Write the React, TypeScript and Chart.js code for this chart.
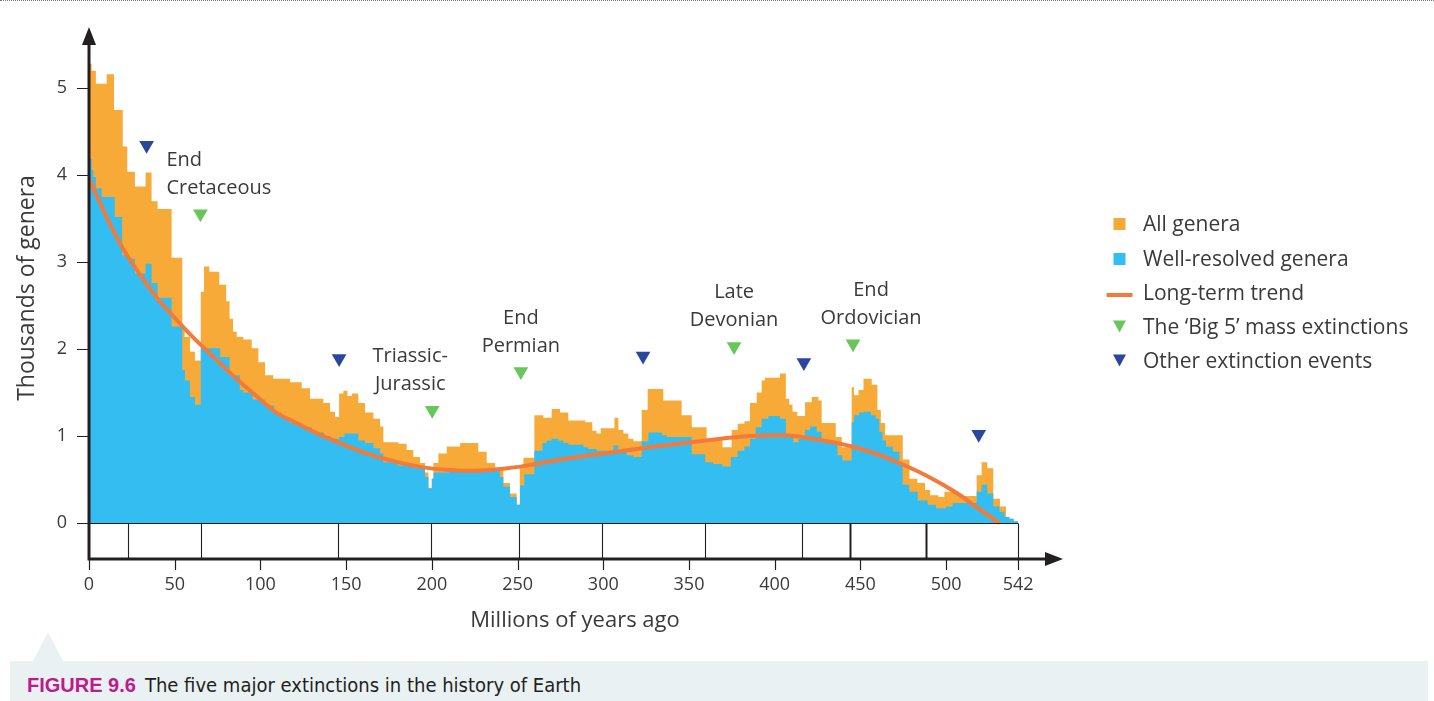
import { useEffect, useRef } from "react";
import { Chart, registerables } from "chart.js";

Chart.register(...registerables);

// Genus counts (thousands) as steps: each value holds from its age until the next age.
const allGeneraAges = [
  0, 1.5, 4, 10.3, 14.6, 19.7, 22.3, 26.8, 33, 36.5, 40, 48.2, 54.4, 55.8, 58.9, 61.8,
  65.2, 67.1, 70.2, 76, 80, 82, 84, 86.2, 90, 94.9, 98.8, 102.7, 107.5, 117.3, 124.1, 128.9,
  136.7, 140.6, 143.5, 145.9, 148.4, 150.7, 153.3, 157.1, 161, 165.9, 169.8, 171.7, 180.4,
  185.3, 189.2, 193.1, 196, 198, 199.9, 200.9, 203.8, 208.7, 216.5, 227.1, 232, 236.9, 241.7,
  245.6, 249.5, 251.3, 253.4, 259.8, 265, 269.9, 274.8, 279.6, 289.4, 293.6, 296.1, 298.5,
  306.5, 308.8, 311.7, 314.6, 317.6, 322.4, 325.9, 335, 345.7, 351.6, 360.3, 369.5, 374.9,
  378.4, 382.3, 385.6, 389.5, 392.4, 394.3, 403.1, 406.5, 408.5, 410.4, 413.2, 417.7, 421.6,
  425.5, 427.4, 435.6, 439.1, 444.9, 446.3, 448.9, 451.8, 456.6, 459.9, 461.9, 464.4, 474.7,
  478.6, 483.2, 487.7, 490.6, 495.5, 499, 505.2, 510, 517.8, 520.7, 524, 527.5, 531.4, 534.9,
  538.8, 542,
];
const allGeneraValues = [
  5.28, 5.2, 5.05, 5.16, 4.75, 4.33, 4.04, 3.87, 4.03, 3.7, 3.61, 3.05, 2.26, 2.14, 1.97, 1.87,
  2.66, 2.95, 2.89, 2.74, 2.55, 2.35, 2.2, 2.14, 2.11, 2.01, 1.85, 1.7, 1.66, 1.62, 1.55, 1.43,
  1.38, 1.28, 1.22, 1.49, 1.52, 1.46, 1.49, 1.38, 1.27, 1.2, 1.11, 0.93, 0.91,
  0.84, 0.76, 0.69, 0.58, 0.4, 0.51, 0.69, 0.8, 0.88, 0.92, 0.82, 0.69, 0.61, 0.46,
  0.34, 0.21, 0.64, 0.75, 1.24, 1.21, 1.31, 1.27, 1.18, 1.16, 1.06, 1.03, 1.09,
  1.21, 1.07, 1.03, 0.97, 0.94, 1.3, 1.54, 1.41, 1.24, 1.1, 0.97, 0.87, 1.07,
  1.14, 1.17, 1.38, 1.5, 1.64, 1.67, 1.72, 1.43, 1.36, 1.28, 1.23, 1.39, 1.45,
  1.41, 1.15, 0.99, 0.87, 1.56, 1.47, 1.53, 1.66, 1.59, 1.3, 1.15, 1.01, 0.73,
  0.51, 0.46, 0.38, 0.32, 0.3, 0.36, 0.33, 0.31, 0.55, 0.7, 0.63, 0.28, 0.19, 0.05,
  0.02, 0,
];

const wellResolvedAges = [
  0, 1.5, 2.5, 4, 7.4, 15, 19.3, 22.3, 26.8, 33, 36.5, 40, 48.2, 54.4, 56, 58.9, 61.8,
  65.2, 76.5, 82, 88, 90, 95.5, 102.7, 108, 112, 117.3, 124.1, 130, 137, 141, 146, 149,
  157.1, 161, 165.9, 169.8, 171.7, 180, 189, 196, 198, 200, 201, 210, 228, 239.7, 241.7,
  245.6, 249.5, 251.4, 253.9, 259.8, 264.5, 267, 269.9, 273.8, 276.7, 279.6, 288.4, 291.3,
  296.1, 305.9, 308.8, 313.7, 317.6, 322.4, 326.3, 334.1, 337, 351.6, 359.4, 364.2, 369.5,
  374.4, 378.4, 382.3, 385.6, 388.9, 392.4, 396.3, 403.1, 406.5, 410.9, 413.8, 417.7, 420.6,
  424.5, 427.4, 436.6, 439.5, 444.9, 446.3, 449.2, 452.2, 456.1, 459, 461, 462.9, 464.9, 469,
  472.7, 474.6, 478.5, 483.4, 489.2, 494.1, 499.9, 503.8, 517.8, 520.7, 524, 527.5, 531.1,
  534, 537, 539.5, 542,
];
const wellResolvedValues = [
  4.19, 4.06, 3.98, 3.85, 3.75, 3.52, 3.08, 3.04, 2.87, 2.98, 2.76, 2.59, 2.26, 1.76, 1.64, 1.45, 1.36,
  2.01, 1.91, 1.7, 1.53, 1.5, 1.42, 1.35, 1.27, 1.22, 1.15, 1.1, 1.04, 1.0, 0.97, 0.99, 1.03,
  0.95, 0.92, 0.86, 0.8, 0.7, 0.66, 0.63, 0.53, 0.4, 0.51, 0.58, 0.6, 0.61, 0.53, 0.42,
  0.3, 0.21, 0.43, 0.56, 0.83, 0.92, 0.95, 0.97, 0.95, 0.92, 0.9, 0.87, 0.85,
  0.83, 0.89, 0.83, 0.78, 0.76, 0.94, 1.04, 1.01, 0.99, 0.79, 0.7, 0.68, 0.65,
  0.76, 0.83, 0.88, 0.97, 1.1, 1.2, 1.23, 1.2, 1.01, 0.93, 0.97, 1.07, 1.11,
  1.05, 0.93, 0.78, 0.72, 1.16, 1.24, 1.27, 1.28, 1.24, 1.2, 1.05, 0.95, 0.88, 0.82,
  0.67, 0.44, 0.36, 0.26, 0.21, 0.17, 0.19, 0.23, 0.36, 0.44, 0.34, 0.19, 0.13,
  0.07, 0.05, 0.02, 0,
];

// Smoothed long-term trend (thousands of genera)
const trendAges = [
  0, 10, 20, 30, 40, 50, 60, 70, 80, 90, 100, 110, 120, 130, 140, 150, 165, 180, 195, 210, 225,
  240, 255, 275, 300, 330, 360, 385, 405, 425, 445, 460, 475, 490, 505, 518, 531,
];
const trendValues = [
  3.96, 3.53, 3.15, 2.85, 2.58, 2.36, 2.15, 1.96, 1.77, 1.59, 1.42, 1.26, 1.16, 1.06, 0.97, 0.89,
  0.78, 0.7, 0.64, 0.61, 0.6, 0.62, 0.66, 0.73, 0.8, 0.88, 0.95, 1.0, 1.01, 0.96, 0.88, 0.79,
  0.67, 0.53, 0.36, 0.18, 0,
];

// Extinction markers
const bigFiveAges = [65, 200.2, 251.9, 376.3, 445.7];
const bigFiveLevels = [3.556, 1.296, 1.741, 2.03, 2.06];
const bigFiveNames = [
  ["End", "Cretaceous"],
  ["Triassic-", "Jurassic"],
  ["End", "Permian"],
  ["Late", "Devonian"],
  ["End", "Ordovician"],
];
const otherAges = [33.6, 145.9, 323.2, 417, 519];
const otherLevels = [4.345, 1.893, 1.92, 1.845, 1.021];

// Geological period boundaries (Ma) shown in the strip under the baseline
const periodBoundaries = [23.03, 65.5, 145.5, 199.6, 251, 299, 359.2, 416, 443.7, 488.3, 542];

const xTicks = [0, 50, 100, 150, 200, 250, 300, 350, 400, 450, 500, 542];
const yTicks = [0, 1, 2, 3, 4, 5];

const legendLabels = [
  "All genera",
  "Well-resolved genera",
  "Long-term trend",
  "The \u2018Big 5\u2019 mass extinctions",
  "Other extinction events",
];

const FONT = '"Open Sans", "Noto Sans", sans-serif';
const ORANGE = "#F7AA37";
const BLUE = "#34BDF0";
const TREND = "#F37A3B";
const GREEN = "#69C65C";
const NAVY = "#2B469E";
const AXIS = "#231F20";
const TEXT = "#3A3A3A";

const toPoints = (xs: number[], ys: number[]) => xs.map((x, i) => ({ x, y: ys[i] }));

// Label placement relative to each Big-5 marker
const labelLayout = [
  { dx: -34, align: "left" },
  { dx: -22, align: "center" },
  { dx: 0, align: "center" },
  { dx: 0, align: "center" },
  { dx: 18, align: "center" },
];

const figureDecor = {
  id: "figureDecor",
  afterDraw(chart: any) {
    const { ctx, chartArea } = chart;
    const xs = chart.scales.x;
    const ys = chart.scales.y;
    const px = (v: number) => xs.getPixelForValue(v);
    const py = (v: number) => ys.getPixelForValue(v);
    const left = chartArea.left;
    const base = chartArea.bottom + 1;
    const zeroY = Math.round(py(0)) + 0.5;

    ctx.save();
    ctx.strokeStyle = AXIS;
    ctx.fillStyle = AXIS;

    // period strip under the baseline
    ctx.lineWidth = 1.2;
    ctx.beginPath();
    ctx.moveTo(left, zeroY);
    ctx.lineTo(px(542), zeroY);
    ctx.stroke();
    const heavy = new Set([443.7, 488.3]);
    for (const b of periodBoundaries) {
      ctx.lineWidth = heavy.has(b) ? 2 : 1.1;
      const bx = Math.round(px(b)) + 0.5;
      ctx.beginPath();
      ctx.moveTo(bx, zeroY);
      ctx.lineTo(bx, base);
      ctx.stroke();
    }

    // tick marks
    ctx.lineWidth = 1.2;
    ctx.beginPath();
    for (const v of yTicks) {
      const ty = Math.round(py(v)) + 0.5;
      ctx.moveTo(left - 12, ty);
      ctx.lineTo(left, ty);
    }
    for (const v of xTicks) {
      const tx = Math.round(px(v)) + 0.5;
      ctx.moveTo(tx, base);
      ctx.lineTo(tx, base + 11);
    }
    ctx.stroke();

    // axes with arrowheads
    ctx.lineWidth = 3;
    ctx.beginPath();
    ctx.moveTo(left, base + 1.5);
    ctx.lineTo(left, 42);
    ctx.moveTo(left - 1.5, base);
    ctx.lineTo(1047, base);
    ctx.stroke();
    ctx.beginPath();
    ctx.moveTo(left, 27);
    ctx.lineTo(left - 7, 45);
    ctx.lineTo(left + 7, 45);
    ctx.closePath();
    ctx.fill();
    ctx.beginPath();
    ctx.moveTo(1063, base);
    ctx.lineTo(1045, base - 7);
    ctx.lineTo(1045, base + 7);
    ctx.closePath();
    ctx.fill();

    // axis titles
    ctx.fillStyle = TEXT;
    ctx.font = `22px ${FONT}`;
    ctx.textAlign = "center";
    ctx.textBaseline = "alphabetic";
    ctx.fillText("Millions of years ago", 575, 627);
    ctx.save();
    ctx.translate(34, 288);
    ctx.rotate(-Math.PI / 2);
    ctx.font = `23px ${FONT}`;
    ctx.fillText("Thousands of genera", 0, 0);
    ctx.restore();

    // Big-5 names
    ctx.font = `20px ${FONT}`;
    bigFiveNames.forEach((lines, i) => {
      const mx = px(bigFiveAges[i]);
      const my = py(bigFiveLevels[i]);
      const lay = labelLayout[i];
      ctx.textAlign = lay.align;
      lines.forEach((line, k) => {
        ctx.fillText(line, mx + lay.dx, my - 48 + k * 28);
      });
    });

    // legend
    const baselines = [231, 266, 300, 334, 368];
    const mx = 1119.5;
    ctx.textAlign = "left";
    ctx.font = `21px ${FONT}`;
    legendLabels.forEach((label, i) => {
      const by = baselines[i];
      if (i === 0 || i === 1) {
        ctx.fillStyle = i === 0 ? ORANGE : BLUE;
        ctx.fillRect(mx - 6, by - 13, 12, 12);
      } else if (i === 2) {
        ctx.strokeStyle = TREND;
        ctx.lineWidth = 4;
        ctx.beginPath();
        ctx.moveTo(mx - 13, by - 5);
        ctx.lineTo(mx + 13, by - 5);
        ctx.stroke();
      } else {
        ctx.fillStyle = i === 3 ? GREEN : NAVY;
        const top = by - 13.5;
        ctx.beginPath();
        ctx.moveTo(mx - 6.5, top);
        ctx.lineTo(mx + 6.5, top);
        ctx.lineTo(mx, top + 12);
        ctx.closePath();
        ctx.fill();
      }
      ctx.fillStyle = TEXT;
      ctx.fillText(label, 1143, by);
    });

    ctx.restore();
  },
};

export default function App() {
  const canvasRef = useRef<HTMLCanvasElement | null>(null);

  useEffect(() => {
    const canvas = canvasRef.current;
    if (!canvas) return;
    const tickFont = { family: FONT, size: 18 };
    const chart = new Chart(canvas, {
      type: "line",
      data: {
        datasets: [
          {
            label: "Long-term trend",
            data: toPoints(trendAges, trendValues),
            borderColor: TREND,
            borderWidth: 4,
            pointRadius: 0,
            cubicInterpolationMode: "monotone",
            fill: false,
          },
          {
            type: "scatter",
            label: legendLabels[3],
            data: toPoints(bigFiveAges, bigFiveLevels),
            pointStyle: "triangle",
            pointRotation: 180,
            pointRadius: 8.5,
            pointBackgroundColor: GREEN,
            pointBorderWidth: 0,
          },
          {
            type: "scatter",
            label: legendLabels[4],
            data: toPoints(otherAges, otherLevels),
            pointStyle: "triangle",
            pointRotation: 180,
            pointRadius: 8.5,
            pointBackgroundColor: NAVY,
            pointBorderWidth: 0,
          },
          {
            label: legendLabels[1],
            data: toPoints(wellResolvedAges, wellResolvedValues),
            stepped: true,
            fill: "origin",
            backgroundColor: BLUE,
            borderWidth: 0,
            pointRadius: 0,
          },
          {
            label: legendLabels[0],
            data: toPoints(allGeneraAges, allGeneraValues),
            stepped: true,
            fill: "origin",
            backgroundColor: ORANGE,
            borderWidth: 0,
            pointRadius: 0,
          },
        ],
      } as any,
      options: {
        responsive: false,
        animation: false,
        layout: { padding: { top: 44.7, right: 385, bottom: 0, left: 0 } },
        plugins: { legend: { display: false }, tooltip: { enabled: false } },
        scales: {
          x: {
            type: "linear",
            min: 0,
            max: 560,
            grid: { display: false, drawTicks: false },
            border: { display: false },
            ticks: {
              font: tickFont,
              color: TEXT,
              padding: 16,
              autoSkip: false,
              maxRotation: 0,
              callback: (v: any) => String(v),
            },
            afterBuildTicks: (s: any) => {
              s.ticks = xTicks.map((value) => ({ value }));
            },
            afterFit: (s: any) => {
              s.height = 143;
            },
          },
          y: {
            type: "linear",
            min: -0.4023,
            max: 5.5,
            grid: { display: false, drawTicks: false },
            border: { display: false },
            ticks: {
              font: tickFont,
              color: TEXT,
              padding: 22,
              callback: (v: any) => String(v),
            },
            afterBuildTicks: (s: any) => {
              s.ticks = yTicks.map((value) => ({ value }));
            },
            afterFit: (s: any) => {
              s.width = 89;
            },
          },
        },
      } as any,
      plugins: [figureDecor],
    });
    return () => chart.destroy();
  }, []);

  return (
    <div style={{ position: "fixed", left: 0, top: 0, width: 1434, height: 701, background: "#fff", overflow: "hidden" }}>
      <div style={{ position: "absolute", left: 0, top: 0, width: 1434, borderTop: "1px dotted #777" }} />
      <canvas ref={canvasRef} width={1434} height={701} style={{ position: "absolute", left: 0, top: 0, display: "block" }} />
      <div
        style={{
          position: "absolute",
          left: 33,
          top: 632,
          width: 0,
          height: 0,
          borderLeft: "15.5px solid transparent",
          borderRight: "15.5px solid transparent",
          borderBottom: "29px solid #EAF1F3",
        }}
      />
      <div style={{ position: "absolute", left: 10, top: 661, width: 1418, height: 40, background: "#EAF1F3" }} />
      <div
        style={{
          position: "absolute",
          left: 27,
          top: 675,
          lineHeight: "20px",
          whiteSpace: "nowrap",
          color: "#231F20",
        }}
      >
        <span style={{ fontFamily: '"Liberation Sans", Arial, sans-serif', fontWeight: 700, fontSize: 20, color: "#BE1A8B" }}>
          FIGURE 9.6
        </span>
        <span
          style={{
            fontFamily: '"Liberation Sans Narrow", "DejaVu Sans Condensed", sans-serif',
            fontSize: 20,
            marginLeft: 9,
          }}
        >
          The five major extinctions in the history of Earth
        </span>
      </div>
    </div>
  );
}
